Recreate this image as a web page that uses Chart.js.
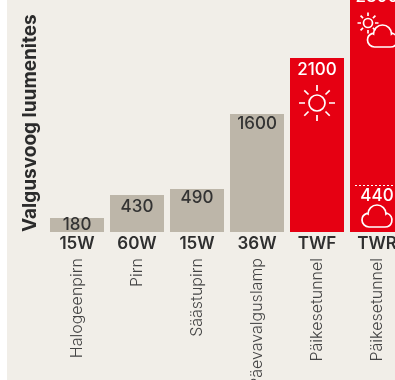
<!DOCTYPE html>
<html><head><meta charset="utf-8">
<script src="https://cdn.jsdelivr.net/npm/chart.js@4"></script>
<style>
html,body{margin:0;padding:0;background:#fff;width:395px;height:380px;overflow:hidden}
#wrap{position:absolute;left:0;top:-12px;width:407px;height:392px}
#bg{position:absolute;left:7px;top:0;width:388px;height:380px;background:#f1eee8}
</style></head><body>
<div id="bg"></div>
<div id="wrap"><canvas id="c" width="407" height="392"></canvas></div>
<script>
const wattage=['15W','60W','15W','36W','TWF','TWR'];
const lampTypes=['Halogeenpirn','Pirn','Säästupirn','Päevavalguslamp','Päikesetunnel','Päikesetunnel'];
const lumens=[180,430,490,1600,2100,2800];
const cloudyLumens=440;
const axisTitle='Valgusvoog luumenites';
const barColors=['#bdb6a9','#bdb6a9','#bdb6a9','#bdb6a9','#e60012','#e60012'];
// The source graphic is not drawn to a linear scale: value -> share of axis height as drawn
const axisValues=[0,180,430,490,1600,2100,2800];
const axisShares=[0,0.0574,0.1516,0.1762,0.4836,0.7131,1];

class DrawnScale extends Chart.LinearScale{
  getPixelForValue(v){
    let i=1;
    while(i<axisValues.length-1&&v>axisValues[i])i++;
    const t=(v-axisValues[i-1])/(axisValues[i]-axisValues[i-1]);
    return this.getPixelForDecimal(axisShares[i-1]+t*(axisShares[i]-axisShares[i-1]));
  }
}
DrawnScale.id='drawn';
DrawnScale.defaults=Chart.LinearScale.defaults;
Chart.register(DrawnScale);

const FONT='Inter, "Open Sans", sans-serif';
function sun(ctx,x,y,r,r1,r2){
  ctx.beginPath();ctx.arc(x,y,r,0,Math.PI*2);
  for(let k=0;k<8;k++){const a=k*Math.PI/4;
    ctx.moveTo(x+r1*Math.cos(a),y+r1*Math.sin(a));
    ctx.lineTo(x+r2*Math.cos(a),y+r2*Math.sin(a));}
  ctx.stroke();
}
function cloud(ctx,x,y,s){
  ctx.beginPath();
  ctx.arc(x+7*s,y+15*s,7*s,Math.PI/2,4.4);
  ctx.arc(x+15*s,y+9*s,9*s,Math.PI,0);
  ctx.arc(x+23*s,y+15*s,7*s,5.0,Math.PI/2);
  ctx.closePath();ctx.stroke();
}
const labelOffsets=[6.5,12,9,10,12,8.5];
const decor={id:'decor',afterDatasetsDraw(ch){
  const c=ch.ctx,m=ch.getDatasetMeta(0).data,base=ch.scales.y.getPixelForValue(0);
  c.save();c.textAlign='center';c.textBaseline='middle';
  c.font='500 17px '+FONT;
  lumens.forEach((v,i)=>{
    c.fillStyle=i>=4?'#fff':'#333';
    c.fillText(String(v),m[i].x,m[i].y+labelOffsets[i]);
  });
  c.fillStyle='#fff';
  c.fillText(String(cloudyLumens),m[5].x,base-36);
  c.strokeStyle='#fff';c.lineWidth=1;c.setLineDash([2,2]);
  c.beginPath();c.moveTo(m[5].x-22,base-46.5);c.lineTo(m[5].x+27,base-46.5);c.stroke();
  c.setLineDash([]);
  c.lineWidth=1.7;
  sun(c,m[4].x,m[4].y+45,8,12,18);
  sun(c,m[5].x-9,m[5].y+35,4.5,7,10.5);
  cloud(c,m[5].x-9.5,m[5].y+37,1);
  cloud(c,m[5].x-15,base-27,1);
  c.fillStyle='#444';c.font='300 16px '+FONT;c.textAlign='right';
  lampTypes.forEach((t,i)=>{
    c.save();c.translate(m[i].x,270);c.rotate(-Math.PI/2);
    c.fillText(t,0,0);c.restore();
  });
  c.restore();
}};
new Chart(document.getElementById('c'),{
  type:'bar',
  data:{labels:wattage,datasets:[{data:lumens,backgroundColor:barColors,barPercentage:0.9,categoryPercentage:1}]},
  options:{
    responsive:false,animation:false,
    layout:{padding:0},
    plugins:{legend:{display:false},tooltip:{enabled:false}},
    scales:{
      x:{type:'category',grid:{display:false,drawTicks:false},border:{display:false},
        ticks:{color:'#2f2f2f',font:{family:FONT,size:17,weight:'600'},padding:1.5,maxRotation:0,autoSkip:false},
        afterFit(s){s.height=148;}},
      y:{type:'drawn',min:0,max:2800,grid:{display:false,drawTicks:false},border:{display:false},
        ticks:{display:false},
        title:{display:true,text:axisTitle,align:'start',color:'#2b2b2b',font:{family:FONT,size:19,weight:'700'},padding:{top:19,bottom:0}},
        afterFit(s){s.width=47;}}
    }
  },
  plugins:[decor]
});
</script>
</body></html>
